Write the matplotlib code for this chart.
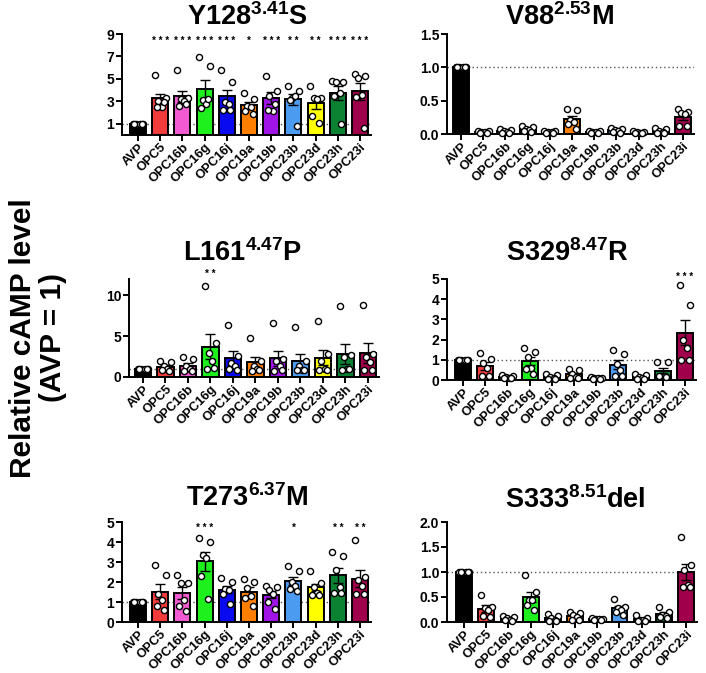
import numpy as np
import matplotlib.pyplot as plt

plt.rcParams['font.family'] = ['Liberation Sans', 'DejaVu Sans']
plt.rcParams['font.weight'] = 'bold'
plt.rcParams['mathtext.fontset'] = 'custom'
plt.rcParams['mathtext.bf'] = 'Liberation Sans:bold'
plt.rcParams['mathtext.rm'] = 'Liberation Sans:bold'
plt.rcParams['mathtext.default'] = 'bf'

groups = ['AVP', 'OPC5', 'OPC16b', 'OPC16g', 'OPC16j', 'OPC19a',
          'OPC19b', 'OPC23b', 'OPC23d', 'OPC23h', 'OPC23i']
colors = ['#000000', '#f23c3c', '#f25ad2', '#1ef01e', '#0a0af0', '#ff7f00',
          '#a014e6', '#4b9bf0', '#ffff00', '#0a8232', '#a0004b']

avp = [1, 1, 1, 1, 1, 1]

# Y128(3.41)S
y128 = [avp,
        [5.35, 3.3, 3.0, 2.5, 2.5, 2.9],
        [5.77, 3.3, 3.2, 3.0, 2.6, 2.8],
        [6.98, 6.18, 3.1, 2.8, 2.4, 3.2],
        [5.8, 4.7, 2.9, 2.8, 2.2, 2.2],
        [3.7, 3.2, 2.6, 2.5, 2.1, 1.9],
        [5.3, 3.9, 3.5, 2.1, 2.2, 2.8],
        [4.4, 3.9, 3.3, 3.5, 3.1, 0.8],
        [4.4, 3.3, 3.3, 3.2, 1.7, 1.1],
        [4.85, 4.76, 4.7, 3.7, 3.5, 1.0],
        [5.4, 5.3, 5.1, 3.6, 3.4, 0.6]]
y128_stars = ['', '***', '***', '***', '***', '*', '***', '**', '**', '***', '***']

# V88(2.53)M
v88 = [avp,
       [0.05, 0.04, 0.03, 0.03, 0.02, 0.02],
       [0.07, 0.06, 0.04, 0.03, 0.02, 0.02],
       [0.12, 0.1, 0.08, 0.06, 0.04, 0.03],
       [0.05, 0.04, 0.03, 0.03, 0.02, 0.02],
       [0.37, 0.36, 0.21, 0.18, 0.15, 0.07],
       [0.05, 0.04, 0.03, 0.03, 0.02, 0.02],
       [0.09, 0.08, 0.06, 0.04, 0.03, 0.02],
       [0.04, 0.03, 0.03, 0.02, 0.02, 0.01],
       [0.09, 0.07, 0.05, 0.03, 0.02, 0.02],
       [0.38, 0.33, 0.31, 0.3, 0.12, 0.12]]
v88_stars = [''] * 11

# L161(4.47)P
l161 = [avp,
        [1.9, 1.8, 1.3, 1.0, 0.8, 0.7],
        [2.5, 2.2, 1.3, 1.0, 0.7, 0.7],
        [11.1, 4.2, 2.9, 2.0, 1.0, 1.1],
        [6.3, 2.6, 1.7, 1.3, 1.0, 0.9],
        [4.7, 2.0, 1.4, 1.0, 0.7, 0.9],
        [6.6, 2.2, 2.0, 1.3, 0.7, 0.8],
        [6.1, 1.9, 1.3, 0.9, 0.8, 0.8],
        [6.8, 2.8, 1.9, 1.0, 0.8, 0.8],
        [8.7, 2.7, 2.5, 1.0, 0.8, 1.0],
        [8.8, 2.8, 2.4, 1.8, 0.8, 0.8]]
l161_stars = ['', '', '', '**', '', '', '', '', '', '', '']

# S329(8.47)R
s329 = [avp,
        [1.35, 1.05, 0.85, 0.6, 0.2, 0.2],
        [0.25, 0.2, 0.15, 0.1, 0.1, 0.1],
        [1.6, 1.4, 1.15, 0.6, 0.55, 0.3],
        [0.3, 0.25, 0.15, 0.1, 0.05, 0.05],
        [0.55, 0.5, 0.3, 0.15, 0.1, 0.1],
        [0.15, 0.12, 0.1, 0.08, 0.07, 0.06],
        [1.5, 1.3, 0.8, 0.5, 0.2, 0.2],
        [0.3, 0.25, 0.15, 0.1, 0.05, 0.05],
        [0.9, 0.9, 0.2, 0.2, 0.2, 0.15],
        [4.7, 3.7, 2.0, 1.6, 1.0, 1.0]]
s329_stars = [''] * 10 + ['***']

# T273(6.37)M
t273 = [avp,
        [2.85, 2.35, 1.4, 1.1, 0.8, 0.6],
        [2.35, 1.95, 1.95, 1.1, 0.8, 0.55],
        [4.2, 4.0, 3.35, 3.2, 2.3, 1.15],
        [2.2, 2.0, 1.65, 1.6, 1.4, 0.9],
        [2.15, 2.0, 1.7, 1.3, 1.2, 0.8],
        [1.8, 1.75, 1.6, 1.4, 1.0, 0.65],
        [2.8, 2.55, 2.0, 1.8, 1.65, 1.55],
        [2.55, 1.95, 1.75, 1.45, 1.35, 1.35],
        [3.5, 3.3, 2.6, 1.75, 1.45, 1.45],
        [4.1, 2.25, 2.1, 1.8, 1.4, 1.4]]
t273_stars = ['', '', '', '***', '', '', '', '*', '', '**', '**']

# S333(8.51)del
s333 = [avp,
        [0.55, 0.3, 0.28, 0.25, 0.12, 0.1],
        [0.12, 0.1, 0.08, 0.05, 0.04, 0.03],
        [0.95, 0.6, 0.45, 0.45, 0.35, 0.25],
        [0.16, 0.12, 0.08, 0.04, 0.03, 0.02],
        [0.2, 0.18, 0.15, 0.1, 0.05, 0.05],
        [0.08, 0.07, 0.06, 0.06, 0.05, 0.04],
        [0.46, 0.3, 0.28, 0.25, 0.2, 0.15],
        [0.14, 0.08, 0.05, 0.04, 0.03, 0.02],
        [0.3, 0.2, 0.15, 0.12, 0.1, 0.08],
        [1.7, 1.15, 1.05, 0.75, 0.7, 0.7]]
s333_stars = [''] * 11

W, H = 706, 673
fig = plt.figure(figsize=(W / 100, H / 100), dpi=100)


def rect(left, xlim, spacing, y0px, ytop_px):
    width = (xlim[1] - xlim[0]) * spacing
    return [left / W, 1 - y0px / H, width / W, (y0px - ytop_px) / H]


offs = [-0.24, 0.24, -0.08, 0.08, -0.16, 0.16]


def panel(r, xlim, data, stars, ylim, yticks, ylabels, star_y, title, tpos):
    ax = fig.add_axes(r)
    x = np.arange(len(groups))
    means = [np.mean(d) for d in data]
    sems = [np.std(d, ddof=1) / np.sqrt(len(d)) for d in data]
    ax.axhline(1, color='#555555', ls=(0, (1, 2)), lw=1, zorder=1)
    ax.bar(x, means, width=0.72, color=colors, edgecolor='black', lw=1.4, zorder=2)
    ax.errorbar(x, means, yerr=sems, fmt='none', ecolor='black', elinewidth=1,
                capsize=3.5, capthick=1, zorder=3)
    for i, d in enumerate(data):
        ax.plot(x[i] + np.array(offs[:len(d)]), d, 'o', ms=4.4, mfc='white',
                mec='black', mew=1, zorder=4, clip_on=False)
        if stars[i]:
            ax.text(x[i], star_y, ' '.join(stars[i]), ha='center', va='center',
                    fontsize=7, clip_on=False)
    ax.set_xlim(*xlim)
    ax.set_ylim(*ylim)
    ax.set_yticks(yticks)
    ax.set_yticklabels(ylabels, fontsize=10, fontweight='bold')
    ax.set_xticks(x)
    ax.set_xticklabels(groups, rotation=45, ha='right', rotation_mode='anchor',
                       fontsize=9.3, fontweight='bold')
    for s in ['top', 'right']:
        ax.spines[s].set_visible(False)
    for s in ['left', 'bottom']:
        ax.spines[s].set_linewidth(1.4)
    ax.tick_params(width=1.4, length=4, pad=1.5)
    ax.tick_params(axis='x', pad=0.5)
    fig.text(tpos[0] / W, 1 - tpos[1] / H, title, ha='center', va='center',
             fontsize=19.5, fontweight='bold')


panel(rect(122, (-0.72, 10.5), 22.2, 135, 34), (-0.72, 10.5), y128, y128_stars,
      (0, 9), [1, 3, 5, 7, 9], ['1', '3', '5', '7', '9'], 8.35,
      r'Y128$^{3.41}$S', (247, 17))
panel(rect(447, (-0.63, 10.5), 22.2, 134, 34), (-0.63, 10.5), v88, v88_stars,
      (0, 1.5), [0, 0.5, 1.0, 1.5], ['0.0', '0.5', '1.0', '1.5'], 1.6,
      r'V88$^{2.53}$M', (560, 17))
panel(rect(129, (-0.62, 10.5), 22.5, 377, 278.6), (-0.62, 10.5), l161, l161_stars,
      (0, 12), [0, 5, 10], ['0', '5', '10'], 12.6,
      r'L161$^{4.47}$P', (243, 253))
panel(rect(447, (-0.72, 10.5), 22.2, 380, 279), (-0.72, 10.5), s329, s329_stars,
      (0, 5), [0, 1, 2, 3, 4, 5], ['0', '1', '2', '3', '4', '5'], 5.1,
      r'S329$^{8.47}$R', (567, 253))
panel(rect(122, (-0.72, 10.5), 22.2, 622, 522), (-0.72, 10.5), t273, t273_stars,
      (0, 5), [0, 1, 2, 3, 4, 5], ['0', '1', '2', '3', '4', '5'], 4.7,
      r'T273$^{6.37}$M', (247, 498))
panel(rect(447, (-0.77, 10.5), 22.2, 622, 522), (-0.77, 10.5), s333, s333_stars,
      (0, 2), [0, 0.5, 1.0, 1.5, 2.0], ['0.0', '0.5', '1.0', '1.5', '2.0'], 2.1,
      r'S333$^{8.51}$del', (575, 500))

fig.text(38 / W, 1 - 338 / H, 'Relative cAMP level\n(AVP = 1)', rotation=90,
         ha='center', va='center', fontsize=21.5, fontweight='bold',
         multialignment='center', linespacing=1.1)

fig.savefig('out.png', dpi=100)
